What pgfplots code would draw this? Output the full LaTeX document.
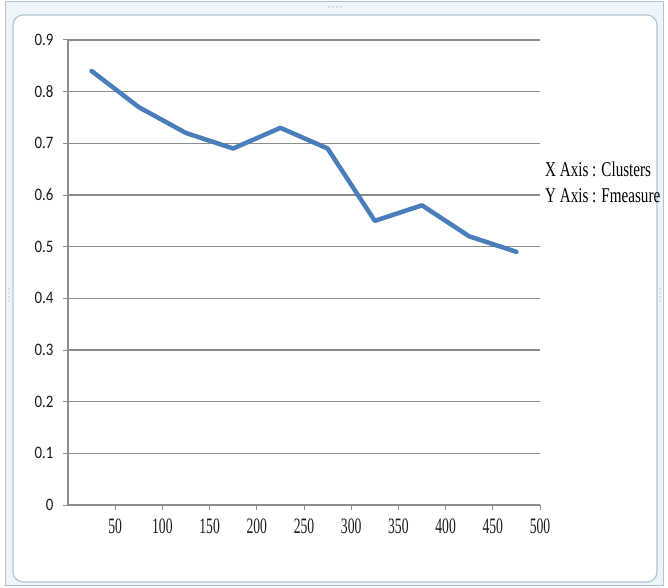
\documentclass[border=0pt]{standalone}
\usepackage{pgfplots}
\pgfplotsset{compat=1.18}
\usepackage{fontspec}
\setmainfont{Liberation Serif}
\newfontfamily\tickfont[FakeStretch=0.85]{Carlito}
\newfontfamily\narrowserif[FakeStretch=0.72]{Liberation Serif}
\newfontfamily\tickserif[FakeStretch=0.62]{Liberation Serif}

\definecolor{lineblue}{HTML}{4A7EBB}
\definecolor{gridgrey}{HTML}{8C8C8C}
\definecolor{framefill}{HTML}{EEF5F8}
\definecolor{frameline}{HTML}{AFC6D2}
\definecolor{labelgrey}{HTML}{1A1A1A}

\begin{document}
\begin{tikzpicture}[x=1pt,y=1pt]
\path[use as bounding box] (0,0) rectangle (668,587);

% chart frame
\fill[framefill, even odd rule] (5,2) rectangle (663,585)
  [rounded corners=10pt] (13,5) rectangle (657,572);
\draw[frameline, line width=1pt] (5,2) rectangle (663,585);
\draw[frameline, line width=1.2pt, rounded corners=10pt] (13,5) rectangle (657,572);
\foreach \xx in {329,333,337,341} \fill[frameline!80!black] (\xx,580) circle (0.7);
\foreach \yy in {286,290,294,298} \fill[frameline!80!black] (9,\yy) circle (0.7);
\foreach \yy in {286,290,294,298} \fill[frameline!80!black] (660,\yy) circle (0.7);

\begin{axis}[
  at={(68pt,82pt)}, anchor=south west,
  scale only axis, width=472pt, height=465pt,
  xmin=0, xmax=500, ymin=0, ymax=0.9,
  axis lines=left,
  axis line style={-, draw=gridgrey, line width=1.3pt},
  xtick={50,100,150,200,250,300,350,400,450,500},
  ytick={0,0.1,0.2,0.3,0.4,0.5,0.6,0.7,0.8,0.9},
  ymajorgrids,
  grid style={gridgrey, line width=1.3pt},
  tick align=outside,
  major tick length=5pt,
  tick style={gridgrey, line width=1pt},
  /pgf/number format/assume math mode=true,
  yticklabel style={font=\tickfont\fontsize{17.5}{17.5}\selectfont, labelgrey, xshift=-6pt,
    /pgf/number format/fixed, /pgf/number format/precision=1},
  xticklabel style={font=\tickserif\fontsize{22}{22}\selectfont, labelgrey, yshift=-5pt},
]
\addplot[color=lineblue, line width=4.5pt, line join=round, line cap=round]
  coordinates {(25,0.84) (75,0.77) (125,0.72) (175,0.69) (225,0.73)
               (275,0.69) (325,0.55) (375,0.58) (425,0.52) (475,0.49)};
\end{axis}

\node[anchor=west, inner sep=0pt, font=\narrowserif\fontsize{21}{21}\selectfont] at (545,418) {X Axis : Clusters};
\node[anchor=west, inner sep=0pt, font=\narrowserif\fontsize{21}{21}\selectfont] at (545,391) {Y Axis : Fmeasure};
\end{tikzpicture}
\end{document}
